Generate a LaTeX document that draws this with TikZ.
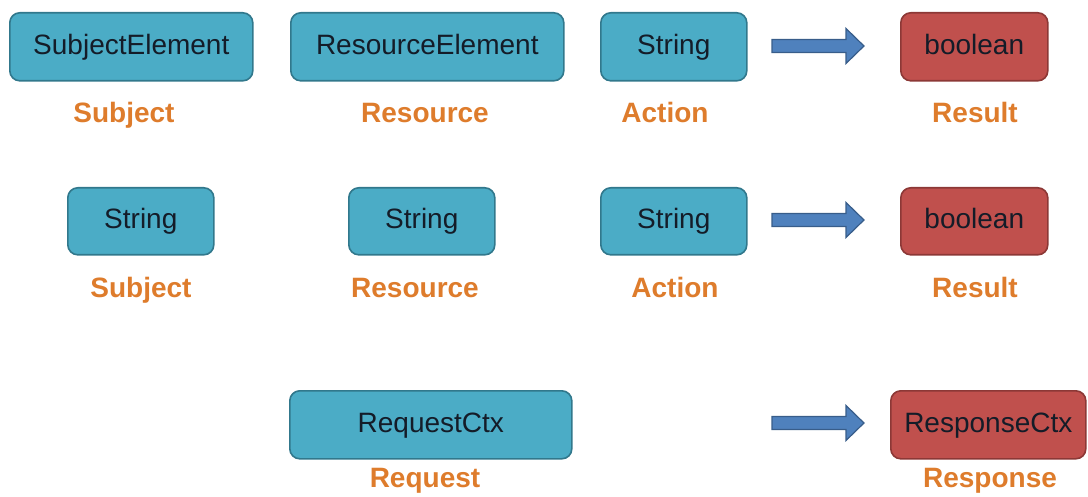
\documentclass[tikz,border=0pt]{standalone}
\usepackage{fontspec}
\setmainfont{Liberation Sans}
\definecolor{aquafill}{RGB}{75,172,198}
\definecolor{aqualine}{RGB}{49,120,140}
\definecolor{redfill}{RGB}{192,80,77}
\definecolor{redline}{RGB}{140,56,54}
\definecolor{arrowfill}{RGB}{79,129,189}
\definecolor{arrowline}{RGB}{56,93,138}
\definecolor{labelorange}{RGB}{222,124,44}
\definecolor{boxtext}{RGB}{20,28,40}
\tikzset{
  typebox/.style={draw=aqualine, fill=aquafill, line width=1.6pt, rounded corners=10pt,
    text=boxtext, font=\fontsize{28}{32}\selectfont, inner sep=0pt, anchor=north west,
    text height=20pt, text depth=5pt},
  resbox/.style={typebox, draw=redline, fill=redfill},
  rolelabel/.style={text=labelorange, font=\bfseries\fontsize{28}{32}\selectfont, inner sep=0pt,
    text height=20pt, text depth=5pt},
  blockarrow/.style={draw=arrowline, fill=arrowfill, line width=1.2pt}
}
\begin{document}
\begin{tikzpicture}[x=1pt, y=-1pt]
\useasboundingbox (0,0) rectangle (1088,497);

% first row: element-based request
\node[typebox, minimum width=243pt, minimum height=68pt] (subjEl) at (9,12) {SubjectElement};
\node[typebox, minimum width=273pt, minimum height=68pt] (resEl) at (290,12) {ResourceElement};
\node[typebox, minimum width=146pt, minimum height=68pt] (act1) at (600,12) {String};
\node[resbox, minimum width=147pt, minimum height=68pt] (res1) at (900,12) {boolean};
\node[rolelabel] (subjL1) at (124,115) {Subject};
\node[rolelabel] (resL1) at (425,115) {Resource};
\node[rolelabel] (actL1) at (665,115) {Action};
\node[rolelabel] (resultL1) at (975,115) {Result};

% second row: string-based request
\node[typebox, minimum width=146pt, minimum height=67pt] (subjStr) at (67,187) {String};
\node[typebox, minimum width=146pt, minimum height=67pt] (resStr) at (348,187) {String};
\node[typebox, minimum width=146pt, minimum height=67pt] (act2) at (600,187) {String};
\node[resbox, minimum width=147pt, minimum height=67pt] (res2) at (900,187) {boolean};
\node[rolelabel] (subjL2) at (141,290) {Subject};
\node[rolelabel] (resL2) at (415,290) {Resource};
\node[rolelabel] (actL2) at (675,290) {Action};
\node[rolelabel] (resultL2) at (975,290) {Result};

% third row: context-based request
\node[typebox, minimum width=282pt, minimum height=68pt] (reqCtx) at (289,390) {RequestCtx};
\node[resbox, minimum width=195pt, minimum height=68pt] (respCtx) at (890,390) {ResponseCtx};
\node[rolelabel] (reqL) at (425,480) {Request};
\node[rolelabel] (respL) at (990,480) {Response};

% block arrows
\foreach \yc/\nm in {46/arrA, 220/arrB, 423/arrC}{
  \draw[blockarrow] (772,\yc-6.5) -- (846,\yc-6.5) -- (846,\yc-17.5) -- (864,\yc)
    -- (846,\yc+17.5) -- (846,\yc+6.5) -- (772,\yc+6.5) -- cycle;
  \coordinate (\nm) at (818,\yc);
}
\end{tikzpicture}
\end{document}
